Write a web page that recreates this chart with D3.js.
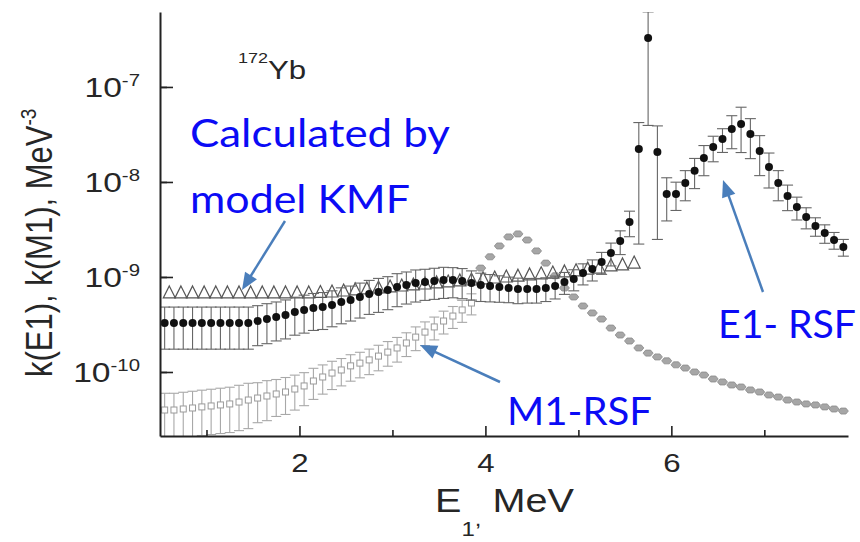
<!DOCTYPE html>
<html>
<head>
<meta charset="utf-8">
<title>172Yb radiative strength functions</title>
<style>
  body { margin: 0; background: #fff; }
  svg { display: block; }
  .axis path { stroke: #222; stroke-width: 2; }
  .axis line { stroke: #222; stroke-width: 1.6; }
  .fig { font-family: "Liberation Sans", Arial, sans-serif; fill: #262626; }
  .note { font-family: Lato, "Open Sans", sans-serif; fill: #0b0bf5; font-size: 38px; }
</style>
</head>
<body>
<svg width="860" height="542"></svg>
<script src="https://cdn.jsdelivr.net/npm/d3@7"></script>
<script>
// Values (k in MeV^-3, E in MeV).
// E1 strength, black dots; error as a fraction of the value.
var e1E = [0.55,0.65,0.75,0.85,0.95,1.05,1.15,1.25,1.35,1.45,
  1.55,1.65,1.75,1.85,1.95,2.05,2.15,2.25,2.35,2.45,
  2.55,2.65,2.75,2.85,2.95,3.05,3.15,3.25,3.35,3.45,
  3.55,3.65,3.75,3.85,3.95,4.05,4.15,4.25,4.35,4.45,
  4.55,4.65,4.75,4.85,4.95,5.05,5.15,5.25,5.35,5.45,
  5.55,5.65,5.75,5.85,5.95,6.05,6.15,6.25,6.35,6.45,
  6.55,6.65,6.75,6.85,6.95,7.05,7.15,7.25,7.35,7.45,
  7.55,7.65,7.75,7.85];
var e1K = [3.28e-10,3.28e-10,3.28e-10,3.28e-10,3.28e-10,3.28e-10,3.28e-10,3.28e-10,3.28e-10,3.28e-10,
  3.44e-10,3.61e-10,3.79e-10,3.98e-10,4.28e-10,4.50e-10,4.72e-10,4.83e-10,5.07e-10,5.45e-10,
  5.73e-10,6.16e-10,6.62e-10,6.95e-10,7.30e-10,7.85e-10,8.24e-10,8.65e-10,8.86e-10,9.08e-10,
  9.29e-10,9.29e-10,9.08e-10,8.65e-10,8.24e-10,8.04e-10,7.85e-10,7.66e-10,7.48e-10,7.48e-10,
  7.48e-10,7.66e-10,8.04e-10,8.86e-10,9.53e-10,1.10e-9,1.21e-9,1.44e-9,1.79e-9,2.39e-9,
  3.79e-9,2.22e-8,3.28e-7,2.07e-8,7.48e-9,7.48e-9,9.75e-9,1.31e-8,1.79e-8,2.33e-8,
  2.84e-8,3.61e-8,4.08e-8,3.20e-8,2.12e-8,1.44e-8,9.75e-9,7.13e-9,5.45e-9,4.28e-9,
  3.44e-9,2.90e-9,2.45e-9,2.07e-9];
var e1Err = [0.47,0.47,0.47,0.47,0.47,0.47,0.47,0.47,0.47,0.47,
  0.45,0.45,0.44,0.44,0.43,0.43,0.42,0.42,0.41,0.41,
  0.40,0.40,0.39,0.39,0.38,0.38,0.37,0.37,0.36,0.36,
  0.36,0.35,0.35,0.34,0.33,0.32,0.31,0.30,0.30,0.29,
  0.29,0.28,0.27,0.26,0.25,0.25,0.25,0.26,0.27,0.28,
  0.30,0.90,0.88,0.88,0.48,0.33,0.35,0.35,0.35,0.30,
  0.28,0.38,0.50,0.45,0.45,0.40,0.35,0.30,0.27,0.25,
  0.22,0.22,0.20,0.20];

// M1 strength, light grey squares with error bars
var m1E = [0.55,0.65,0.75,0.85,0.95,1.05,1.15,1.25,1.35,1.45,
  1.55,1.65,1.75,1.85,1.95,2.05,2.15,2.25,2.35,2.45,
  2.55,2.65,2.75,2.85,2.95,3.05,3.15,3.25,3.35,3.45,
  3.55,3.65,3.75,3.85];
var m1K = [3.98e-11,3.98e-11,4.08e-11,4.18e-11,4.29e-11,4.39e-11,4.50e-11,4.61e-11,4.83e-11,5.07e-11,
  5.32e-11,5.59e-11,5.87e-11,6.16e-11,6.62e-11,7.13e-11,8.04e-11,8.86e-11,9.75e-11,1.05e-10,
  1.16e-10,1.24e-10,1.34e-10,1.47e-10,1.62e-10,1.79e-10,2.02e-10,2.33e-10,2.63e-10,2.98e-10,
  3.44e-10,3.88e-10,4.50e-10,5.32e-10];
var m1Err = [0.50,0.50,0.50,0.50,0.50,0.50,0.50,0.50,0.50,0.50,
  0.45,0.45,0.42,0.42,0.40,0.38,0.36,0.34,0.33,0.32,
  0.31,0.30,0.30,0.30,0.29,0.29,0.28,0.28,0.28,0.27,
  0.27,0.26,0.26,0.25];

// M1 model curve, grey diamonds (peak near 4.3 MeV and long tail)
var m1ModelE = [3.95,4.05,4.15,4.25,4.35,4.45,4.55,4.65,4.75,4.85,
  4.95,5.05,5.15,5.25,5.35,5.45,5.55,5.65,5.75,5.85,
  5.95,6.05,6.15,6.25,6.35,6.45,6.55,6.65,6.75,6.85,
  6.95,7.05,7.15,7.25,7.35,7.45,7.55,7.65,7.75,7.85];
var m1ModelK = [1.24e-9,1.63e-9,2.12e-9,2.64e-9,2.84e-9,2.45e-9,1.88e-9,1.40e-9,1.03e-9,7.66e-10,
  6.16e-10,4.95e-10,4.18e-10,3.61e-10,2.90e-10,2.45e-10,2.12e-10,1.79e-10,1.58e-10,1.44e-10,
  1.31e-10,1.19e-10,1.10e-10,1.00e-10,9.29e-11,8.44e-11,7.85e-11,7.30e-11,6.95e-11,6.47e-11,
  6.16e-11,5.73e-11,5.45e-11,5.07e-11,4.83e-11,4.61e-11,4.50e-11,4.29e-11,4.08e-11,3.88e-11];

// KMF model, open triangles
var kmfE = [0.6,0.725,0.85,0.975,1.1,1.225,1.35,1.475,1.6,1.725,
  1.85,1.975,2.1,2.225,2.35,2.475,2.6,2.725,2.85,2.975,
  3.1,3.225,3.35,3.475,3.6,3.725,3.85,3.975,4.1,4.225,
  4.35,4.475,4.6,4.725,4.85,4.975,5.1,5.225,5.35,5.475,5.6];
var kmfK = [6.79e-10,6.79e-10,6.79e-10,6.79e-10,6.79e-10,6.79e-10,6.79e-10,6.79e-10,6.79e-10,6.79e-10,
  6.79e-10,6.79e-10,6.79e-10,6.87e-10,6.95e-10,7.12e-10,7.30e-10,7.48e-10,7.66e-10,7.85e-10,
  8.04e-10,8.24e-10,8.44e-10,8.65e-10,8.86e-10,9.08e-10,9.29e-10,9.53e-10,9.76e-10,1.00e-9,
  1.02e-9,1.05e-9,1.08e-9,1.10e-9,1.13e-9,1.16e-9,1.21e-9,1.24e-9,1.31e-9,1.34e-9,1.40e-9];

var yMajor = [1e-10, 1e-9, 1e-8, 1e-7];
var yMajorExp = ["-10", "-9", "-8", "-7"];
var xMajor = [2, 4, 6];
var xMinor = [1, 3, 5, 7];

var svg = d3.select("svg");
var x = d3.scaleLinear().domain([0.5, 7.9]).range([160, 848]);
var y = d3.scaleLog().domain([2.12e-11, 6.15e-7]).range([436, 12]);
var stretch = "scale(1.2,1)"; // the original figure's lettering is wide

svg.append("clipPath").attr("id", "plot")
  .append("rect").attr("x", 160).attr("y", 12).attr("width", 690).attr("height", 424);
var plot = svg.append("g").attr("clip-path", "url(#plot)");

function zip(E, K, err) {
  return E.map((e, i) => ({e: e, k: K[i], err: err ? err[i] : 0}));
}

function errorBars(data, colour, cap) {
  var g = plot.append("g").attr("stroke", colour).attr("stroke-width", 1.1);
  var bar = g.selectAll("g").data(data).enter().append("g");
  bar.append("line")
    .attr("x1", d => x(d.e)).attr("x2", d => x(d.e))
    .attr("y1", d => y(d.k * (1 - d.err))).attr("y2", d => y(d.k * (1 + d.err)));
  bar.append("line")
    .attr("x1", d => x(d.e) - cap / 2).attr("x2", d => x(d.e) + cap / 2)
    .attr("y1", d => y(d.k * (1 + d.err))).attr("y2", d => y(d.k * (1 + d.err)));
  bar.append("line")
    .attr("x1", d => x(d.e) - cap / 2).attr("x2", d => x(d.e) + cap / 2)
    .attr("y1", d => y(d.k * (1 - d.err))).attr("y2", d => y(d.k * (1 - d.err)));
}

// M1 data
var m1 = zip(m1E, m1K, m1Err);
errorBars(m1, "#a8a8a8", 10);
plot.append("g").selectAll("rect").data(m1).enter().append("rect")
  .attr("x", d => x(d.e) - 3).attr("y", d => y(d.k) - 3)
  .attr("width", 6).attr("height", 6)
  .attr("fill", "white").attr("stroke", "#9a9a9a").attr("stroke-width", 1);

// M1 model
plot.append("g").selectAll("path").data(zip(m1ModelE, m1ModelK)).enter().append("path")
  .attr("transform", d => "translate(" + x(d.e) + "," + y(d.k) + ")")
  .attr("d", "M-5,0L-2.5,-3L2.5,-3L5,0L2.5,3L-2.5,3Z")
  .attr("fill", "#a6a6a6").attr("stroke", "#8a8a8a").attr("stroke-width", 0.8);

// KMF triangles
plot.append("g").selectAll("path").data(zip(kmfE, kmfK)).enter().append("path")
  .attr("transform", d => "translate(" + x(d.e) + "," + y(d.k) + ")")
  .attr("d", "M0,-7L6,5L-6,5Z")
  .attr("fill", "none").attr("stroke", "#555").attr("stroke-width", 1.2);

// E1 data
var e1 = zip(e1E, e1K, e1Err);
errorBars(e1, "#666", 11);
plot.append("g").selectAll("circle").data(e1).enter().append("circle")
  .attr("cx", d => x(d.e)).attr("cy", d => y(d.k)).attr("r", 4)
  .attr("fill", "#111");

// axes: ticks point into the plot
svg.append("g").attr("class", "axis").attr("transform", "translate(160,0)")
  .call(d3.axisLeft(y).tickValues(yMajor).tickSize(-13).tickSizeOuter(0).tickFormat(""));
svg.append("g").attr("class", "axis").attr("transform", "translate(160,0)")
  .call(d3.axisLeft(y).ticks(4).tickSize(-7).tickSizeOuter(0).tickFormat(""))
  .select(".domain").remove();
svg.append("g").attr("class", "axis").attr("transform", "translate(0,436)")
  .call(d3.axisBottom(x).tickValues(xMinor).tickSize(-6).tickSizeOuter(0).tickFormat(""));
var xAxis = svg.append("g").attr("class", "axis").attr("transform", "translate(0,436)")
  .call(d3.axisBottom(x).tickValues(xMajor).tickSize(-10).tickSizeOuter(0).tickFormat(d3.format("d")));
xAxis.select(".domain").remove();
xAxis.selectAll("text")
  .attr("y", 0).attr("dy", null)
  .attr("transform", "translate(0,36) " + stretch)
  .attr("class", "fig").style("font-size", "26px").attr("fill", "#262626");
xAxis.attr("font-family", null).attr("font-size", null);

// y tick labels 10^n
var yLab = svg.append("g").selectAll("text").data(yMajor).enter().append("text")
  .attr("class", "fig")
  .attr("transform", d => "translate(140," + (y(d) + 10) + ") " + stretch)
  .attr("text-anchor", "end").style("font-size", "28px")
  .text("10");
yLab.append("tspan").attr("dy", -11).style("font-size", "17px")
  .text((d, i) => yMajorExp[i]);

// axis titles
var xTitle = svg.append("text").attr("class", "fig")
  .attr("transform", "translate(435,512) " + stretch).style("font-size", "33px");
xTitle.append("tspan").text("E");
xTitle.append("tspan").attr("dy", 24).style("font-size", "20px").text("1");
xTitle.append("tspan").attr("dy", -10).style("font-size", "20px").text(",");
xTitle.append("tspan").attr("dy", -14).text(" MeV");

var yTitle = svg.append("text").attr("class", "fig")
  .attr("transform", "translate(52,377) " + stretch + " rotate(-90)").style("font-size", "31px");
yTitle.append("tspan").text("k(E1), k(M1), MeV");
yTitle.append("tspan").attr("dy", -13).style("font-size", "19px").text("-3");

var nucleus = svg.append("text").attr("class", "fig")
  .attr("transform", "translate(238,79) " + stretch);
nucleus.append("tspan").attr("dy", -16).style("font-size", "15px").text("172");
nucleus.append("tspan").attr("dy", 16).style("font-size", "26px").text("Yb");

// blue annotations
var notes = [
  {text: "Calculated by", x: 190, y: 147, w: 260},
  {text: "model KMF", x: 190, y: 213, w: 220},
  {text: "E1- RSF", x: 718, y: 338, w: 138},
  {text: "M1-RSF", x: 507, y: 425, w: 145}
];
svg.append("g").selectAll("text").data(notes).enter().append("text")
  .attr("class", "note")
  .attr("x", d => d.x).attr("y", d => d.y)
  .attr("textLength", d => d.w).attr("lengthAdjust", "spacingAndGlyphs")
  .text(d => d.text);

var arrows = [
  {x1: 285, y1: 221, x2: 242, y2: 290},
  {x1: 500, y1: 382, x2: 420, y2: 345},
  {x1: 763, y1: 292, x2: 723, y2: 180}
];
var arrow = svg.append("g").selectAll("g").data(arrows).enter().append("g")
  .attr("transform", d => "translate(" + d.x2 + "," + d.y2 + ") rotate(" +
    (Math.atan2(d.y1 - d.y2, d.x1 - d.x2) * 180 / Math.PI) + ")");
arrow.append("line")
  .attr("x1", 14).attr("x2", d => Math.hypot(d.x1 - d.x2, d.y1 - d.y2))
  .attr("stroke", "#4a7ebb").attr("stroke-width", 2.5);
arrow.append("path").attr("d", "M0,0L17,-7L17,7Z").attr("fill", "#4a7ebb");
</script>
</body>
</html>
